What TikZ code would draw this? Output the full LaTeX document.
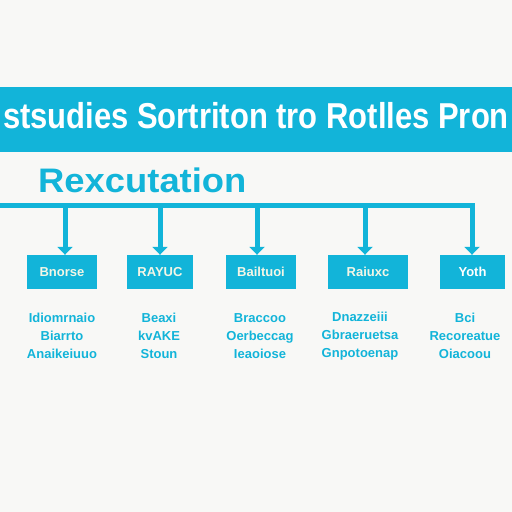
\documentclass[tikz,border=0pt]{standalone}
\usepackage{fontspec}
\setmainfont{Liberation Sans}
\usetikzlibrary{arrows.meta}
\definecolor{bg}{HTML}{F8F8F6}
\definecolor{cy}{HTML}{12B4D9}
\definecolor{pale}{HTML}{F4F6E6}
\tikzset{
  box/.style={fill=cy, minimum width=68pt, minimum height=34pt, inner sep=0pt, text=pale, font=\bfseries\fontsize{13}{13}\selectfont},
  conn/.style={draw=cy, line width=5pt},
  arr/.style={draw=cy, line width=5pt, -{Triangle[width=15pt,length=8pt]}},
  desc/.style={text=cy, font=\bfseries\fontsize{13}{18}\selectfont, align=center, inner sep=0pt},
}
\begin{document}
\begin{tikzpicture}[x=1pt,y=-1pt]
\useasboundingbox (0,0) rectangle (512,512);
\fill[bg] (0,0) rectangle (512,512);
\fill[cy] (0,87) rectangle (512,152);
\node[text=white, font=\bfseries\fontsize{36}{36}\selectfont, inner sep=0pt, xscale=0.86] (title) at (256,116) {stsudies Sortriton tro Rotlles Pron};
\node[text=cy, font=\bfseries\fontsize{34}{34}\selectfont, anchor=west, inner sep=0pt, xscale=1.07] (sub) at (38,180) {Rexcutation};
\coordinate (l0) at (0,205.5);
\coordinate (j1) at (65,205.5);
\coordinate (j2) at (160,205.5);
\coordinate (j3) at (257,205.5);
\coordinate (j4) at (365,205.5);
\coordinate (j5) at (472,205.5);
\node[box, minimum width=70pt] (b1) at (62,272) {Bnorse};
\node[box, minimum width=66pt] (b2) at (160,272) {RAYUC};
\node[box, minimum width=70pt] (b3) at (261,272) {Bailtuoi};
\node[box, minimum width=80pt] (b4) at (368,272) {Raiuxc};
\node[box, minimum width=65pt, text=white] (b5) at (472.5,272) {Yoth};
\draw[conn] (l0) -- ([xshift=2.5pt]j5) ;
\draw[arr] (j1) -- (j1 |- b1.north);
\draw[arr] (j2) -- (j2 |- b2.north);
\draw[arr] (j3) -- (j3 |- b3.north);
\draw[arr] (j4) -- (j4 |- b4.north);
\draw[arr] ([yshift=-2.5pt]j5) -- (j5 |- b5.north);
\node[desc] (d1) at (62,336) {Idiomrnaio\\Biarrto\\Anaikeiuuo};
\node[desc] (d2) at (159,336) {Beaxi\\kvAKE\\Stoun};
\node[desc] (d3) at (260,336) {Braccoo\\Oerbeccag\\Ieaoiose};
\node[desc] (d4) at (360,336) {Dnazzeiii\\Gbraeruetsa\\Gnpotoenap};
\node[desc] (d5) at (465,336) {Bci\\Recoreatue\\Oiacoou};
\end{tikzpicture}
\end{document}
